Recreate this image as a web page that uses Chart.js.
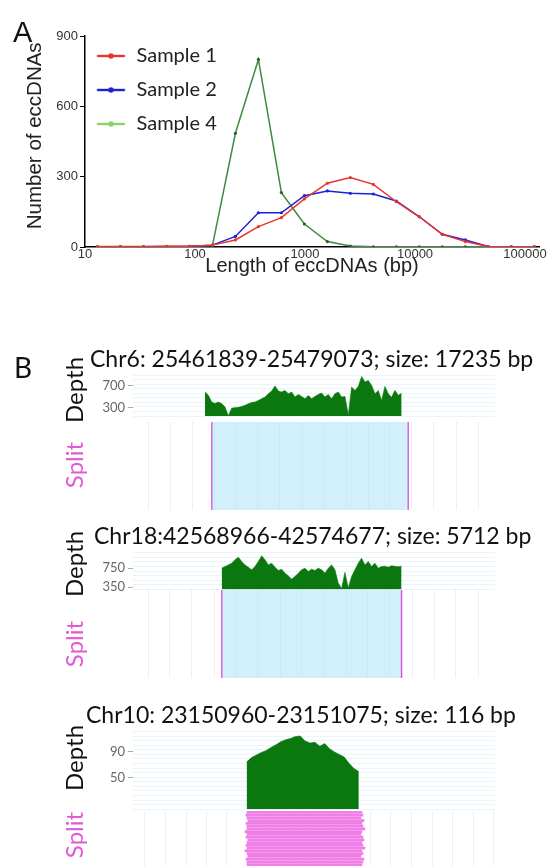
<!DOCTYPE html>
<html><head><meta charset="utf-8">
<script src="https://cdn.jsdelivr.net/npm/chart.js@4.4.1/dist/chart.umd.min.js"></script>
<style>
html,body{margin:0;padding:0;background:#fff;}
#wrap{position:relative;width:556px;height:866px;overflow:hidden;background:#fff;}
canvas{position:absolute;left:0;}
.t{position:absolute;white-space:nowrap;line-height:1;color:#111;}
.v{position:absolute;white-space:nowrap;line-height:1;transform:translate(-50%,-50%) rotate(-90deg);font-family:Lato;font-size:24px;}
</style></head><body>
<div id="wrap">
  <canvas id="cA" width="556" height="290" style="top:0"></canvas>
  <canvas id="s1" width="556" height="108" style="top:412px"></canvas>
  <canvas id="d1" width="556" height="71" style="top:360px"></canvas>
  <canvas id="s2" width="556" height="108" style="top:580px"></canvas>
  <canvas id="d2" width="556" height="62" style="top:540px"></canvas>
  <canvas id="s3" width="556" height="65" style="top:801px"></canvas>
  <canvas id="d3" width="556" height="100" style="top:720px"></canvas>
  <div class="t" style="left:13px;top:18px;font-family:'Liberation Sans';font-size:29px;">A</div>
  <div class="t" style="left:14px;top:353px;font-family:Lato;font-size:28px;">B</div>
  <div class="t" id="title1" style="left:90px;top:347px;font-family:Lato;font-size:23px;"></div>
  <div class="t" id="title2" style="left:94px;top:524px;font-family:Lato;font-size:23px;"></div>
  <div class="t" id="title3" style="left:86px;top:703px;font-family:Lato;font-size:23px;"></div>
  <div class="v" style="left:74px;top:390px;color:#111;">Depth</div>
  <div class="v" style="left:74px;top:465px;color:#e25ad5;">Split</div>
  <div class="v" style="left:74px;top:564px;color:#111;">Depth</div>
  <div class="v" style="left:74px;top:644px;color:#e25ad5;">Split</div>
  <div class="v" style="left:74px;top:758px;color:#111;">Depth</div>
  <div class="v" style="left:74px;top:835px;color:#e25ad5;">Split</div>
</div>
<script>
// ---------- Panel A data ----------
const lengthBins = [13,21,34,55,89,144,233,377,610,987,1597,2584,4181,6765,10946,17711,28657,46368,75025,121393];
const sample1 = [2,2,2,3,3,8,30,87,125,205,272,296,267,193,129,54,23,2,1,1];
const sample2 = [1,1,1,2,3,8,45,146,146,219,239,229,226,196,129,54,30,2,1,1];
const sample4 = [1,1,1,1,1,6,485,800,232,98,23,4,1,1,1,1,1,1,1,1];
const seriesNames = ['Sample 1','Sample 2','Sample 4'];
const xTicksA = [10,100,1000,10000,100000];
const yTicksA = [0,300,600,900];

// ---------- Panel B data ----------
const t1Title = 'Chr6: 25461839-25479073; size: 17235 bp';
const t1EccStart = 25461839, t1EccEnd = 25479073;
const t1ViewMin = 25454893, t1ViewMax = 25486723;
const t1DepthStart = 25461225, t1DepthStep = 293;
const t1Depth = [579,520,400,372,400,372,311,153,290,300,305,320,341,370,390,400,430,460,489,549,597,690,597,579,609,549,579,489,537,501,459,519,459,501,537,561,489,537,459,549,579,489,501,170,668,609,680,859,758,788,698,549,609,430,680,550,484,610,520,560];
const t1Ticks = [300,700];

const t2Title = 'Chr18:42568966-42574677; size: 5712 bp';
const t2EccStart = 42568966, t2EccEnd = 42574677;
const t2ViewMin = 42566134, t2ViewMax = 42577653;
const t2DepthStart = 42568956, t2DepthStep = 106;
const t2Depth = [750,784,819,855,925,982,889,819,771,714,784,889,1009,925,819,855,771,700,728,645,588,518,574,645,714,750,680,728,700,750,714,645,750,819,714,434,320,660,330,574,714,855,960,819,889,784,855,750,784,790,770,800,790,780,790];
const t2Ticks = [350,750];

const t3Title = 'Chr10: 23150960-23151075; size: 116 bp';
const t3EccStart = 23150960, t3EccEnd = 23151075;
const t3ViewMin = 23150847, t3ViewMax = 23151207;
const t3DepthStart = 23150960, t3DepthStep = 4.85;
const t3Depth = [74,81,85,89,92,97,101,106,109,111,114,115,107,104,105,99,103,95,90,86,82,72,64,59];
const t3Ticks = [50,90];
const t3ReadStarts = [23150960,23150959,23150960,23150961,23150959,23150960,23150960,23150958,23150960,23150959,23150961,23150960,23150959,23150960,23150958,23150960,23150961,23150959,23150960,23150960];
const t3ReadEnds = [23151075,23151076,23151074,23151077,23151075,23151076,23151078,23151075,23151074,23151076,23151077,23151075,23151076,23151078,23151075,23151076,23151074,23151077,23151076,23151075];

// ---------- styles ----------
const RED='#e8362c', BLUE='#1f1fd4', GREEN_LINE='#3f8a3f', GREEN_LEG='#8fd06e';
const DEPTH_GREEN='#0b780f', PINK='#e23cd4', RECT_BLUE='rgba(180,228,250,0.6)';

document.getElementById('title1').textContent = t1Title;
document.getElementById('title2').textContent = t2Title;
document.getElementById('title3').textContent = t3Title;

function icon(lineColor, dotColor){
  const c=document.createElement('canvas'); c.width=34; c.height=8;
  const x=c.getContext('2d'); x.strokeStyle=lineColor; x.lineWidth=2.4;
  x.beginPath(); x.moveTo(1.25,4); x.lineTo(29.25,4); x.stroke();
  x.fillStyle=dotColor; x.beginPath(); x.arc(15.25,4,2.7,0,Math.PI*2); x.fill();
  return c;
}
const legendIcons=[icon(RED,RED),icon(BLUE,BLUE),icon(GREEN_LEG,GREEN_LEG)];

function pts(vals){ return vals.map((v,i)=>({x:lengthBins[i], y:v})); }

new Chart(document.getElementById('cA'), {
  type:'line',
  data:{datasets:[
    {label:seriesNames[0], data:pts(sample1), borderColor:RED, backgroundColor:RED, borderWidth:1.5, pointRadius:1.6, pointBorderWidth:0, order:1},
    {label:seriesNames[1], data:pts(sample2), borderColor:BLUE, backgroundColor:BLUE, borderWidth:1.5, pointRadius:1.6, pointBorderWidth:0, order:2},
    {label:seriesNames[2], data:pts(sample4), borderColor:GREEN_LINE, backgroundColor:'#2c5e2c', borderWidth:1.5, pointRadius:1.6, pointBorderWidth:0, order:3}
  ]},
  options:{
    responsive:false, animation:false, events:[],
    layout:{padding:{left:0,top:36,right:17,bottom:0}},
    plugins:{
      tooltip:{enabled:false},
      legend:{position:'chartArea', align:'start',
        title:{display:true, text:' ', font:{size:10, lineHeight:1.2}, padding:{top:0,bottom:20}},
        labels:{usePointStyle:true, pointStyleWidth:27.5, padding:14, color:'#222',
          font:{family:'Lato', size:20},
          generateLabels(chart){
            const items = Chart.defaults.plugins.legend.labels.generateLabels(chart);
            items.forEach((it,i)=>{ it.pointStyle = legendIcons[i]; });
            return items;
          }}}
    },
    scales:{
      x:{type:'logarithmic', min:10, max:134000,
        afterBuildTicks(s){ s.ticks = xTicksA.map(v=>({value:v})); },
        afterFit(s){ s.height = 43; },
        ticks:{font:{family:'Liberation Sans', size:13}, color:'#333', padding:0, maxRotation:0, autoSkip:false,
          callback:(v)=>String(v)},
        grid:{display:false, drawTicks:false},
        border:{color:'#000', width:1.5},
        title:{display:true, text:'Length of eccDNAs (bp)', font:{family:'Liberation Sans', size:20}, color:'#222', padding:{top:0,bottom:11.6}}
      },
      y:{min:0, max:900,
        afterBuildTicks(s){ s.ticks = yTicksA.map(v=>({value:v})); },
        afterFit(s){ s.width = 85; },
        ticks:{font:{family:'Liberation Sans', size:13}, color:'#333', padding:2},
        grid:{drawOnChartArea:false, drawTicks:true, tickLength:5, tickColor:'#000'},
        border:{color:'#000', width:1.5},
        title:{display:true, text:'  Number of eccDNAs', font:{family:'Liberation Sans', size:20.5}, color:'#222', padding:{top:23,bottom:0}}
      }
    }
  }
});

function evenVals(min, max, n){ const a=[]; for(let i=0;i<=n;i++) a.push(min+(max-min)*i/n); return a; }
function pxGrid(vmin, vmax, firstPx, stepPx){
  const w=362, a=[]; for(let p=firstPx; p<=w; p+=stepPx) a.push(vmin+(vmax-vmin)*p/w); return a;
}

function mkDepth(id, depth, dStart, dStep, vMin, vMax, yMin, yMax, yTicks, padTop, padBottom, nGrid){
  const data = depth.map((v,i)=>({x:dStart+i*dStep, y:v}));
  new Chart(document.getElementById(id), {
    type:'line',
    data:{datasets:[{data, borderColor:DEPTH_GREEN, backgroundColor:DEPTH_GREEN, borderWidth:0.6, pointRadius:0, fill:'start', tension:0}]},
    options:{
      responsive:false, animation:false, events:[],
      layout:{padding:{left:0,right:61,top:padTop,bottom:padBottom}},
      plugins:{legend:{display:false}, tooltip:{enabled:false}},
      scales:{
        x:{type:'linear', min:vMin, max:vMax, display:false},
        y:{min:yMin, max:yMax, position:'left',
          afterFit(s){ s.width = 133; },
          afterBuildTicks(s){ s.ticks = yTicks.map(v=>({value:v})); },
          ticks:{font:{family:'Lato', size:13}, color:'#666', padding:3},
          grid:{drawOnChartArea:false, drawTicks:true, tickLength:5, tickColor:'#aaa'},
          border:{display:false}},
        g:{min:yMin, max:yMax, position:'right',
          afterFit(s){ s.width = 0; },
          afterBuildTicks(s){ s.ticks = evenVals(yMin, yMax, nGrid).map(v=>({value:v})); },
          ticks:{display:false},
          grid:{color:'#e8f5fa', drawTicks:false, lineWidth:1},
          border:{display:false}}
      }
    }
  });
}

function mkSplit(id, vMin, vMax, eStart, eEnd, padTop, padBottom, gridFirst, gridStep){
  new Chart(document.getElementById(id), {
    type:'line',
    data:{datasets:[
      {data:[{x:eStart,y:1},{x:eEnd,y:1}], borderWidth:0, pointRadius:0, fill:'origin', backgroundColor:RECT_BLUE},
      {data:[{x:eStart,y:0},{x:eStart,y:1}], borderColor:PINK, borderWidth:1.6, pointRadius:0, fill:false},
      {data:[{x:eEnd,y:0},{x:eEnd,y:1}], borderColor:PINK, borderWidth:1.6, pointRadius:0, fill:false}
    ]},
    options:{
      responsive:false, animation:false, events:[],
      layout:{padding:{left:133,right:61,top:padTop,bottom:padBottom}},
      plugins:{legend:{display:false}, tooltip:{enabled:false}},
      scales:{
        x:{type:'linear', min:vMin, max:vMax,
          afterBuildTicks(s){ s.ticks = pxGrid(vMin, vMax, gridFirst, gridStep).map(v=>({value:v})); },
          ticks:{display:false}, grid:{color:'#efefef', drawTicks:false}, border:{display:false}},
        y:{min:0, max:1, display:false}
      }
    }
  });
}

mkDepth('d1', t1Depth, t1DepthStart, t1DepthStep, t1ViewMin, t1ViewMax, 150, 885, t1Ticks, 15, 15, 9);
mkSplit('s1', t1ViewMin, t1ViewMax, t1EccStart, t1EccEnd, 10, 10, 15, 22);
mkDepth('d2', t2Depth, t2DepthStart, t2DepthStep, t2ViewMin, t2ViewMax, 300, 1080, t2Ticks, 12.5, 12.5, 8);
mkSplit('s2', t2ViewMin, t2ViewMax, t2EccStart, t2EccEnd, 10, 10, 15, 22);
mkDepth('d3', t3Depth, t3DepthStart, t3DepthStep, t3ViewMin, t3ViewMax, 0, 122, t3Ticks, 11.5, 10.5, 17);

new Chart(document.getElementById('s3'), {
  type:'bar',
  data:{labels:t3ReadStarts.map((_,i)=>String(i)),
    datasets:[{data:t3ReadStarts.map((s,i)=>[s, t3ReadEnds[i]]), backgroundColor:'#f07fe8', borderWidth:0, barPercentage:1, categoryPercentage:0.94}]},
  options:{
    indexAxis:'y', responsive:false, animation:false, events:[],
    layout:{padding:{left:133,right:61,top:10,bottom:0}},
    plugins:{legend:{display:false}, tooltip:{enabled:false}},
    scales:{
      x:{type:'linear', min:t3ViewMin, max:t3ViewMax,
        afterBuildTicks(s){ s.ticks = pxGrid(t3ViewMin, t3ViewMax, 12, 20.5).map(v=>({value:v})); },
        ticks:{display:false}, grid:{color:'#efefef', drawTicks:false}, border:{display:false}},
      y:{display:false}
    }
  }
});
</script>
</body></html>
